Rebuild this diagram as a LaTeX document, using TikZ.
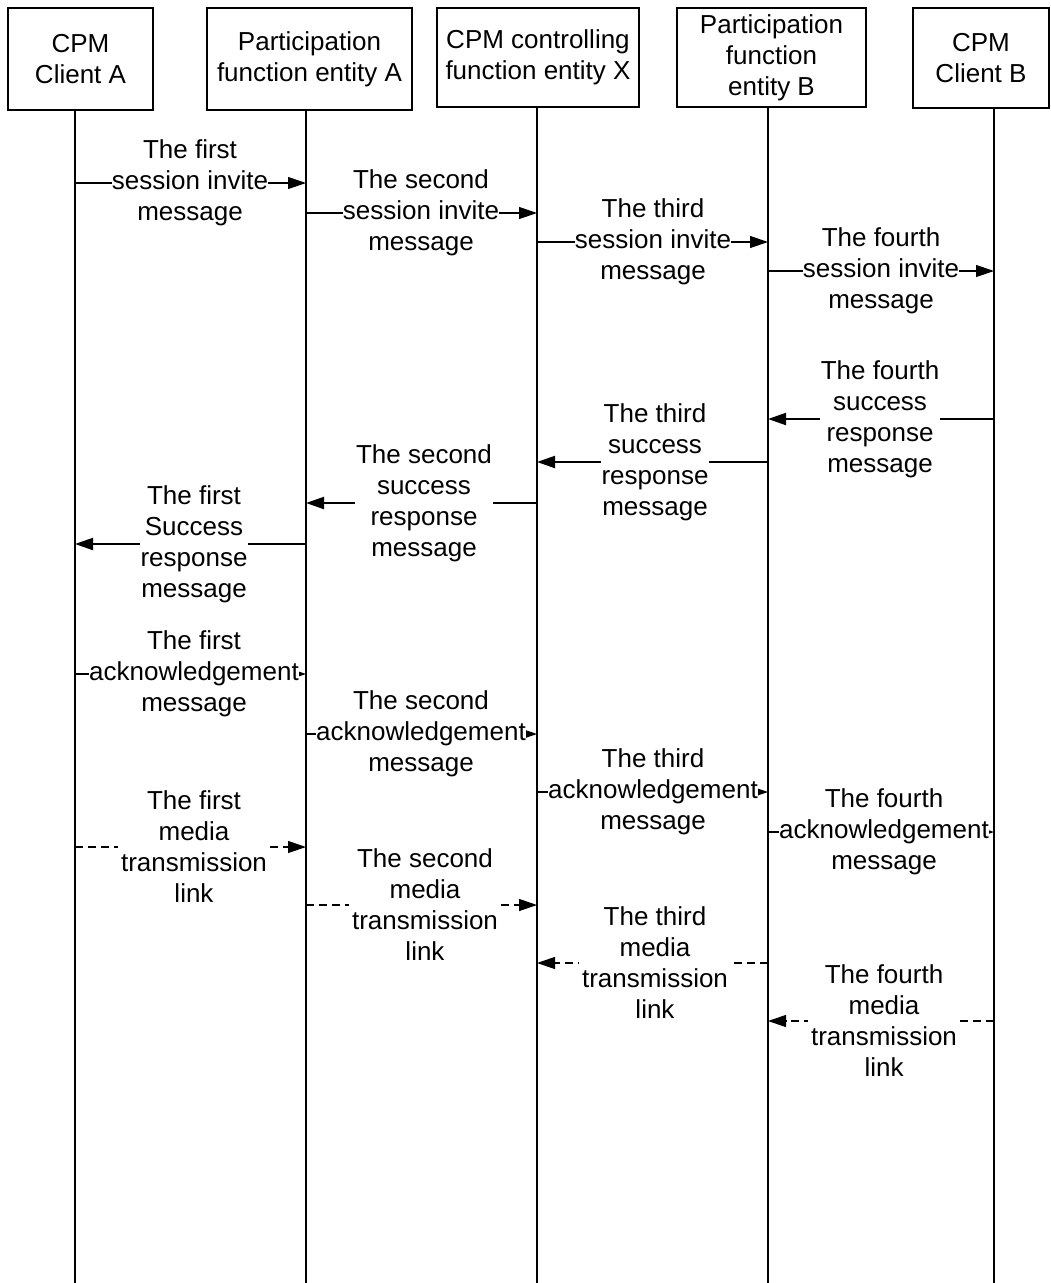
\documentclass[tikz,border=0pt]{standalone}
\usepackage{fontspec}
\setmainfont{Liberation Sans}
\usetikzlibrary{arrows.meta,backgrounds}
\begin{document}
\begin{tikzpicture}[x=1pt,y=-1pt,
  font=\fontsize{26}{31}\selectfont,
  box/.style={draw,line width=1.3pt,align=center,inner sep=0pt},
  lbl/.style={fill=white,align=center,inner sep=1pt},
  msg/.style={line width=1.2pt,-{Triangle[length=18pt,width=12pt]}},
  resp/.style={line width=2pt,-{Triangle[length=18pt,width=12pt]}},
  media/.style={msg,dash pattern=on 8pt off 5pt}]
\useasboundingbox (0,0) rectangle (1051,1283);
% entities
\node[box,minimum width=145pt,minimum height=102pt] (ca) at (80.5,59) {CPM\\Client A};
\node[box,minimum width=205pt,minimum height=102pt] (pa) at (309.5,59) {Participation\\function entity A};
\node[box,minimum width=202pt,minimum height=99pt] (cx) at (538,57.5) {CPM controlling\\function entity X};
\node[box,minimum width=189pt,minimum height=99pt] (pb) at (771.5,57.5) {Participation\\function\\entity B};
\node[box,minimum width=136pt,minimum height=100pt] (cb) at (981,58) {CPM\\Client B};
% lifelines
\coordinate (la) at (75,110);
\coordinate (lpa) at (306,110);
\coordinate (lx) at (537,107);
\coordinate (lpb) at (768,107);
\coordinate (lb) at (994,108);
\foreach \l in {la,lpa,lx,lpb,lb}
  \draw[line width=1.2pt] (\l) -- (\l |- 0,1283);
% session invite
\node[lbl,inner sep=0pt] (i1) at (190,183) {The first\\session invite\\message};
\node[lbl,inner sep=0pt] (i2) at (421,213) {The second\\session invite\\message};
\node[lbl,inner sep=0pt] (i3) at (653,242) {The third\\session invite\\message};
\node[lbl,inner sep=0pt] (i4) at (881,271) {The fourth\\session invite\\message};
% success response
\node[lbl] (s4) at (880,419) {The fourth\\success\\response\\message};
\node[lbl] (s3) at (655,462) {The third\\success\\response\\message};
\node[lbl] (s2) at (424,503) {The second\\success\\response\\message};
\node[lbl] (s1) at (194,544) {The first\\Success\\response\\message};
% acknowledgement
\node[lbl,inner sep=0pt] (k1) at (194,674) {The first\\acknowledgement\\message};
\node[lbl,inner sep=0pt] (k2) at (421,734) {The second\\acknowledgement\\message};
\node[lbl,inner sep=0pt] (k3) at (653,792) {The third\\acknowledgement\\message};
\node[lbl,inner sep=0pt] (k4) at (884,832) {The fourth\\acknowledgement\\message};
% media transmission link
\node[lbl,inner sep=3pt] (d1) at (194,847) {The first\\media\\transmission\\link};
\node[lbl,inner sep=3pt] (d2) at (425,905) {The second\\media\\transmission\\link};
\node[lbl,inner sep=3pt] (d3) at (655,963) {The third\\media\\transmission\\link};
\node[lbl,inner sep=3pt] (d4) at (884,1021) {The fourth\\media\\transmission\\link};
\begin{scope}[on background layer]
\draw[msg] (la |- i1) -- (lpa |- i1);
\draw[msg] (lpa |- i2) -- (lx |- i2);
\draw[msg] (lx |- i3) -- (lpb |- i3);
\draw[msg] (lpb |- i4) -- (lb |- i4);
\draw[resp] (lb |- s4) -- (lpb |- s4);
\draw[resp] (lpb |- s3) -- (lx |- s3);
\draw[resp] (lx |- s2) -- (lpa |- s2);
\draw[resp] (lpa |- s1) -- (la |- s1);
\draw[msg] (la |- k1) -- (lpa |- k1);
\draw[msg] (lpa |- k2) -- (lx |- k2);
\draw[msg] (lx |- k3) -- (lpb |- k3);
\draw[msg] (lpb |- k4) -- (lb |- k4);
\draw[media] (la |- d1) -- (lpa |- d1);
\draw[media] (lpa |- d2) -- (lx |- d2);
\draw[media] (lpb |- d3) -- (lx |- d3);
\draw[media] (lb |- d4) -- (lpb |- d4);
\end{scope}
\end{tikzpicture}
\end{document}
